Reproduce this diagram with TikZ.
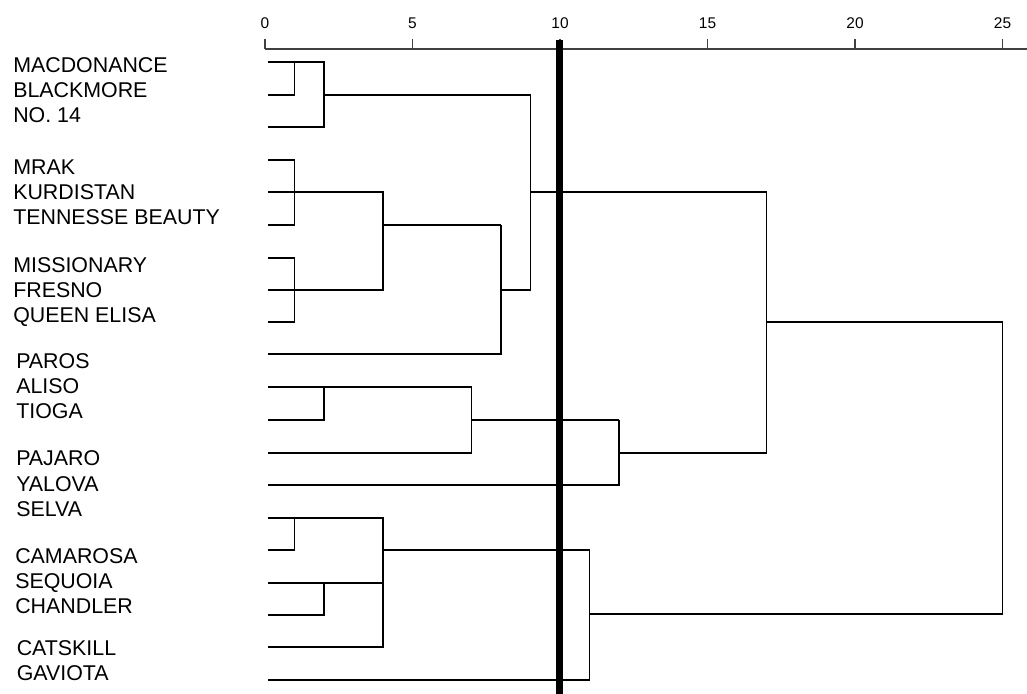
\documentclass[tikz,border=0pt]{standalone}
\usepackage{fontspec}
\setmainfont{Liberation Sans}
\begin{document}
\begin{tikzpicture}[x=0.025cm, y=-0.025cm,
  branch/.style={line width=1.3pt},
  cutline/.style={line width=5pt},
  axisline/.style={line width=1.3pt, black!75},
  cultivar/.style={anchor=base west, inner sep=0pt, font=\fontsize{15.2}{18}\selectfont},
  scalelbl/.style={anchor=base, inner sep=0pt, font=\fontsize{11}{13}\selectfont}]
  \useasboundingbox (0,0) rectangle (1027,694);
  % rescaled distance axis
  \draw[axisline] (265,49) -- (1027,49);
  \foreach \v [count=\i from 0] in {0,5,...,25} {
    \draw[axisline] (265+147.5*\i,39) -- (265+147.5*\i,49);
    \node[scalelbl] (s\v) at (265+147.5*\i,29) {\v};
  }
  % cultivar names
  \node[cultivar] (mac)      at (13,73)    {MACDONANCE};
  \node[cultivar] (black)    at (13,98)    {BLACKMORE};
  \node[cultivar] (no14)     at (13,123)   {NO. 14};
  \node[cultivar] (mrak)     at (13,175)   {MRAK};
  \node[cultivar] (kurd)     at (13,200)   {KURDISTAN};
  \node[cultivar] (tenn)     at (13,225)   {TENNESSE BEAUTY};
  \node[cultivar] (miss)     at (13,273)   {MISSIONARY};
  \node[cultivar] (fresno)   at (13,298)   {FRESNO};
  \node[cultivar] (queen)    at (13,323)   {QUEEN ELISA};
  \node[cultivar] (paros)    at (16,369)   {PAROS};
  \node[cultivar] (aliso)    at (16,394)   {ALISO};
  \node[cultivar] (tioga)    at (16,419)   {TIOGA};
  \node[cultivar] (pajaro)   at (16,466)   {PAJARO};
  \node[cultivar] (yalova)   at (16,492)   {YALOVA};
  \node[cultivar] (selva)    at (16,517)   {SELVA};
  \node[cultivar] (camarosa) at (15,563)   {CAMAROSA};
  \node[cultivar] (sequoia)  at (15,588)   {SEQUOIA};
  \node[cultivar] (chandler) at (15,613)   {CHANDLER};
  \node[cultivar] (catskill) at (16.5,655) {CATSKILL};
  \node[cultivar] (gaviota)  at (16.5,680) {GAVIOTA};
  % first group
  \draw[branch] (268,62) -| (324,127) -- (268,127);
  \draw[branch] (294.5,62) |- (268,95);
  \draw[branch] (324,95) -- (530.5,95);
  \draw[branch] (268,160) -| (294.5,225) -- (268,225);
  \draw[branch] (268,258) -| (294.5,322) -- (268,322);
  \draw[branch] (268,192) -| (383,290) -- (268,290);
  \draw[branch] (383,225) -- (501,225);
  \draw[branch] (268,354) -| (501,225);
  \draw[branch] (501,290) -| (530.5,95);
  \draw[branch] (530.5,192) -- (766.5,192);
  % second group
  \draw[branch] (268,387) -| (471.5,453) -- (268,453);
  \draw[branch] (324,387) |- (268,420);
  \draw[branch] (471.5,420) -- (619,420);
  \draw[branch] (268,485) -| (619,420);
  \draw[branch] (619,453) -| (766.5,192);
  \draw[branch] (766.5,322) -- (1002.5,322);
  % third group
  \draw[branch] (268,518) -| (383,647) -- (268,647);
  \draw[branch] (294.5,518) |- (268,550);
  \draw[branch] (268,583) -- (383,583);
  \draw[branch] (324,583) |- (268,615);
  \draw[branch] (383,550) -- (589.5,550);
  \draw[branch] (268,680) -| (589.5,550);
  \draw[branch] (589.5,614) -| (1002.5,322);
  % cut at distance 10
  \draw[cutline] (559.5,40) -- (559.5,694);
\end{tikzpicture}
\end{document}
